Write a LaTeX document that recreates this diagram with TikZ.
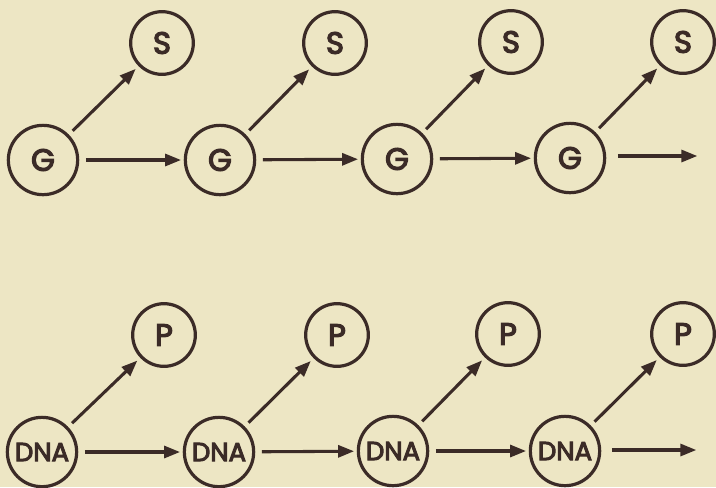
\documentclass[tikz,border=0pt]{standalone}
\usepackage{fontspec}
\setmainfont{Poppins}
\newfontfamily\labelfont{Poppins}[FakeBold=4]
\usetikzlibrary{arrows.meta}
\definecolor{paper}{HTML}{EDE6C4}
\definecolor{ink}{HTML}{3B2B27}
\tikzset{
  state/.style={circle, draw=ink, line width=2.4pt, inner sep=0pt,
    minimum size=52pt, text=ink, font=\labelfont\fontsize{23}{23}\selectfont},
  small/.style={state, minimum size=47pt},
  dna/.style={state, font=\labelfont\fontsize{19.5}{20}\selectfont},
  flow/.style={draw=ink, line width=2.3pt,
    -{Triangle[length=12pt,width=9pt]}, shorten <=5pt, shorten >=2pt},
  branch/.style={flow, shorten <=4pt, shorten >=3pt}
}
\begin{document}
\begin{tikzpicture}[x=0.75pt, y=-0.75pt]
  \fill[paper] (0,0) rectangle (716,487);
  \useasboundingbox (0,0) rectangle (716,487);
  % upper chain: G -> G, each G giving an S
  \node[state] (g1) at (43,160) {G};
  \node[state] (g2) at (220,160) {G};
  \node[state] (g3) at (397,159) {G};
  \node[state] (g4) at (570,158) {G};
  \node[small] (s1) at (162,43) {S};
  \node[small] (s2) at (335,43) {S};
  \node[small] (s3) at (511,42) {S};
  \node[small] (s4) at (683,42) {S};
  \coordinate (gend) at (700,156);
  \draw[flow] (g1) -- (g2);
  \draw[flow] (g2) -- (g3);
  \draw[flow] (g3) -- (g4);
  \draw[flow] (g4.east |- gend) ++(5,0) -- (gend);
  \foreach \i in {1,...,4} \draw[branch] (g\i) -- (s\i);
  % lower chain: DNA -> DNA, each DNA giving a P
  \node[dna] (d1) at (42,452) {DNA};
  \node[dna] (d2) at (219,452) {DNA};
  \node[dna] (d3) at (393,451) {DNA};
  \node[dna] (d4) at (565,451) {DNA};
  \node[small] (p1) at (164,335) {P};
  \node[small] (p2) at (337,335) {P};
  \node[small] (p3) at (508,334) {P};
  \node[small] (p4) at (683,334) {P};
  \coordinate (dend) at (699,450);
  \draw[flow] (d1) -- (d2);
  \draw[flow] (d2) -- (d3);
  \draw[flow] (d3) -- (d4);
  \draw[flow] (d4.east |- dend) ++(4,0) -- (dend);
  \foreach \i in {1,...,4} \draw[branch] (d\i) -- (p\i);
\end{tikzpicture}
\end{document}
